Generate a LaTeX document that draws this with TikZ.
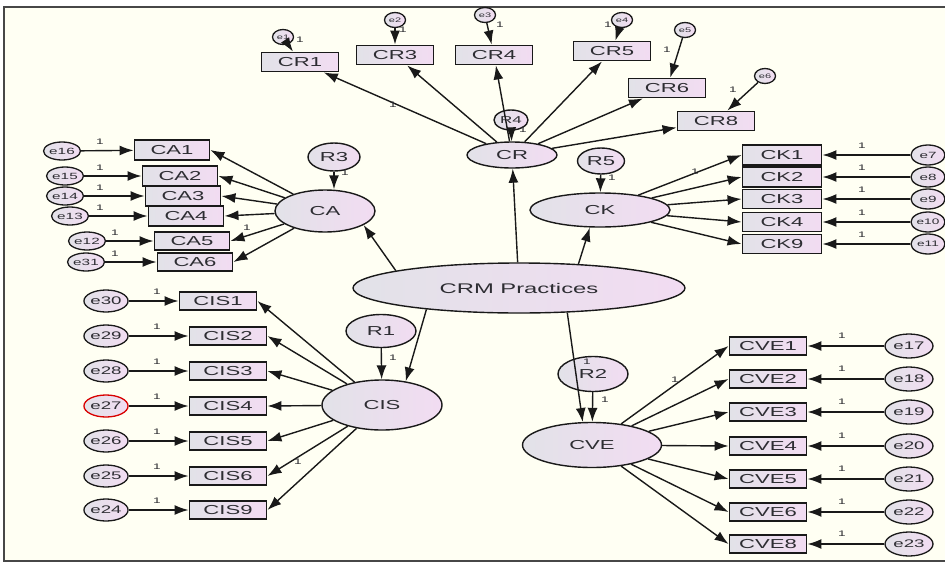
\documentclass[tikz,border=0pt]{standalone}
\usepackage{fontspec}
\setmainfont[FakeStretch=1.7]{Liberation Sans}
\usetikzlibrary{arrows.meta,shapes.geometric}
\definecolor{bg}{RGB}{255,255,243}
\definecolor{fl}{RGB}{226,226,232}
\definecolor{fr}{RGB}{242,220,242}
\definecolor{ln}{RGB}{25,25,25}
\definecolor{tx}{RGB}{45,45,50}
\tikzset{
  obs/.style={draw=ln, line width=1.9pt, left color=fl, right color=fr, minimum width=77pt, minimum height=19pt, inner sep=0pt, text=tx, font=\fontsize{13}{13}\selectfont},
  lat/.style={ellipse, draw=ln, line width=1.4pt, left color=fl, right color=fr, inner sep=0pt, text=tx, font=\fontsize{13}{13}\selectfont},
  err/.style={ellipse, draw=ln, line width=1.3pt, left color=fl, right color=fr, minimum width=44pt, minimum height=22pt, inner sep=0pt, text=tx, font=\fontsize{11}{11}\selectfont},
  errs/.style={ellipse, draw=ln, line width=1.3pt, left color=fl, right color=fr, minimum width=21pt, minimum height=15pt, inner sep=0pt, text=tx, font=\fontsize{6.5}{6.5}\selectfont},
  pth/.style={draw=ln, line width=1.4pt, -{Latex[length=14pt,width=10pt]}},
  lab/.style={font=\fontsize{8}{8}\selectfont, inner sep=0pt, text=tx}
}
\begin{document}
\begin{tikzpicture}[x=1pt,y=-1pt]
\useasboundingbox (0,0) rectangle (945,565);
\fill[white] (0,0) rectangle (945,565);
\draw[fill=bg, draw=ln!80, line width=2pt] (4,7) rectangle (952,561);

% latent variables
\node[lat, minimum width=332pt, minimum height=50pt, font=\fontsize{14}{14}\selectfont] (CRM) at (519,288) {CRM Practices};
\node[lat, minimum width=90pt, minimum height=26pt] (CR) at (512,155) {CR};
\node[lat, minimum width=100pt, minimum height=42pt] (CA) at (325,211) {CA};
\node[lat, minimum width=140pt, minimum height=34pt] (CK) at (600,210) {CK};
\node[lat, minimum width=120pt, minimum height=50pt] (CIS) at (382,405) {CIS};
\node[lat, minimum width=139pt, minimum height=45pt] (CVE) at (592,445) {CVE};

% residuals
\node[lat, minimum width=70pt, minimum height=33pt] (R1) at (381,331) {R1};
\node[lat, minimum width=70pt, minimum height=35pt] (R2) at (593,374) {R2};
\node[lat, minimum width=52pt, minimum height=28pt] (R3) at (334,157) {R3};
\node[lat, minimum width=34pt, minimum height=20pt, font=\fontsize{10}{10}\selectfont] (R4) at (511,120) {R4};
\node[lat, minimum width=47pt, minimum height=26pt] (R5) at (601,161) {R5};

% CR indicators
\node[obs] (CR1) at (300,62) {CR1};
\node[obs] (CR3) at (395,55) {CR3};
\node[obs] (CR4) at (494,55) {CR4};
\node[obs] (CR5) at (612,51) {CR5};
\node[obs] (CR6) at (667,88) {CR6};
\node[obs] (CR8) at (716,121) {CR8};
\node[errs] (e1) at (283,37) {e1};
\node[errs] (e2) at (395,20) {e2};
\node[errs] (e3) at (485,15) {e3};
\node[errs] (e4) at (622,20) {e4};
\node[errs] (e5) at (685,30) {e5};
\node[errs] (e6) at (765,76) {e6};

% CA indicators
\node[obs, minimum width=75pt, minimum height=20pt] (CA1) at (172,150) {CA1};
\node[obs, minimum width=75pt, minimum height=20pt] (CA2) at (180,176) {CA2};
\node[obs, minimum width=75pt, minimum height=20pt] (CA3) at (183,196) {CA3};
\node[obs, minimum width=75pt, minimum height=20pt] (CA4) at (186,216) {CA4};
\node[obs, minimum width=75pt, minimum height=18pt] (CA5) at (192,241) {CA5};
\node[obs, minimum width=75pt, minimum height=18pt] (CA6) at (195,262) {CA6};
\node[err, minimum width=37pt, minimum height=18pt, font=\fontsize{9}{9}\selectfont] (e16) at (62,151) {e16};
\node[err, minimum width=37pt, minimum height=18pt, font=\fontsize{9}{9}\selectfont] (e15) at (65,176) {e15};
\node[err, minimum width=37pt, minimum height=18pt, font=\fontsize{9}{9}\selectfont] (e14) at (65,196) {e14};
\node[err, minimum width=37pt, minimum height=18pt, font=\fontsize{9}{9}\selectfont] (e13) at (70,216) {e13};
\node[err, minimum width=37pt, minimum height=18pt, font=\fontsize{9}{9}\selectfont] (e12) at (87,241) {e12};
\node[err, minimum width=37pt, minimum height=18pt, font=\fontsize{9}{9}\selectfont] (e31) at (86,262) {e31};

% CK indicators
\node[obs, minimum width=79pt, minimum height=20pt] (CK1) at (782,155) {CK1};
\node[obs, minimum width=79pt, minimum height=20pt] (CK2) at (782,177) {CK2};
\node[obs, minimum width=79pt, minimum height=19pt] (CK3) at (782,199) {CK3};
\node[obs, minimum width=79pt, minimum height=19pt] (CK4) at (782,222) {CK4};
\node[obs, minimum width=79pt, minimum height=19pt] (CK9) at (782,244) {CK9};
\node[err, minimum width=34pt, minimum height=20pt, font=\fontsize{9}{9}\selectfont] (e7) at (928,155) {e7};
\node[err, minimum width=34pt, minimum height=20pt, font=\fontsize{9}{9}\selectfont] (e8) at (928,177) {e8};
\node[err, minimum width=34pt, minimum height=20pt, font=\fontsize{9}{9}\selectfont] (e9) at (928,199) {e9};
\node[err, minimum width=34pt, minimum height=20pt, font=\fontsize{8}{8}\selectfont] (e10) at (928,222) {e10};
\node[err, minimum width=34pt, minimum height=20pt, font=\fontsize{8}{8}\selectfont] (e11) at (928,244) {e11};

% CIS indicators
\node[obs, minimum height=18pt] (CIS1) at (218,301) {CIS1};
\node[obs, minimum height=18pt] (CIS2) at (228,336) {CIS2};
\node[obs, minimum height=18pt] (CIS3) at (228,371) {CIS3};
\node[obs, minimum height=18pt] (CIS4) at (228,406) {CIS4};
\node[obs, minimum height=18pt] (CIS5) at (228,441) {CIS5};
\node[obs, minimum height=18pt] (CIS6) at (228,476) {CIS6};
\node[obs, minimum height=18pt] (CIS9) at (228,510) {CIS9};
\node[err] (e30) at (106,301) {e30};
\node[err] (e29) at (106,336) {e29};
\node[err] (e28) at (106,371) {e28};
\node[err, draw=red!85!black] (e27) at (106,406) {e27};
\node[err] (e26) at (106,441) {e26};
\node[err] (e25) at (106,476) {e25};
\node[err] (e24) at (106,510) {e24};

% CVE indicators
\node[obs, minimum height=18pt] (CVE1) at (768,346) {CVE1};
\node[obs, minimum height=18pt] (CVE2) at (768,379) {CVE2};
\node[obs, minimum height=18pt] (CVE3) at (768,412) {CVE3};
\node[obs, minimum height=18pt] (CVE4) at (768,446) {CVE4};
\node[obs, minimum height=18pt] (CVE5) at (768,479) {CVE5};
\node[obs, minimum height=18pt] (CVE6) at (768,512) {CVE6};
\node[obs, minimum height=18pt] (CVE8) at (768,544) {CVE8};
\node[err, minimum width=48pt, minimum height=24pt] (e17) at (909,346) {e17};
\node[err, minimum width=48pt, minimum height=24pt] (e18) at (909,379) {e18};
\node[err, minimum width=48pt, minimum height=24pt] (e19) at (909,412) {e19};
\node[err, minimum width=48pt, minimum height=24pt] (e20) at (909,446) {e20};
\node[err, minimum width=48pt, minimum height=24pt] (e21) at (909,479) {e21};
\node[err, minimum width=48pt, minimum height=24pt] (e22) at (909,512) {e22};
\node[err, minimum width=48pt, minimum height=24pt] (e23) at (909,544) {e23};

% structural paths
\draw[pth] (CRM) -- (CR);
\draw[pth] (CRM.172) -- (CA.-20);
\draw[pth] (CRM.22) -- (CK.-120);
\draw[pth] (CRM.-167) -- (CIS.45);
\draw[pth] (CRM.-27.55) -- (CVE.112);
\draw[pth] (R1) -- (CIS);
\draw[pth] (R2) -- (CVE);
\draw[pth] (R3.south) -- (R3.south |- CA.north);
\draw[pth] (R4) -- (CR);
\draw[pth] (R5) -- (CK);

% measurement paths
\foreach \b in {CR1,CR3,CR4,CR5,CR6,CR8} \draw[pth] (CR) -- (\b);
\foreach \e/\b in {e1/CR1,e2/CR3,e3/CR4,e4/CR5,e5/CR6,e6/CR8} \draw[pth] (\e) -- (\b);
\foreach \b in {CA1,CA2,CA3,CA4,CA5,CA6} \draw[pth] (CA) -- (\b.east);
\foreach \e/\b in {e16/CA1,e15/CA2,e14/CA3,e13/CA4,e12/CA5,e31/CA6} \draw[pth] (\e) -- (\b);
\foreach \b in {CK1,CK2,CK3,CK4,CK9} \draw[pth] (CK) -- (\b.west);
\foreach \e/\b in {e7/CK1,e8/CK2,e9/CK3,e10/CK4,e11/CK9} \draw[pth] (\e) -- (\b);
\foreach \b in {CIS1,CIS2,CIS3,CIS4,CIS5,CIS6,CIS9} \draw[pth] (CIS) -- (\b.east);
\foreach \e/\b in {e30/CIS1,e29/CIS2,e28/CIS3,e27/CIS4,e26/CIS5,e25/CIS6,e24/CIS9} \draw[pth] (\e) -- (\b);
\foreach \b in {CVE1,CVE2,CVE3,CVE4,CVE5,CVE6,CVE8} \draw[pth] (CVE) -- (\b.west);
\foreach \e/\b in {e17/CVE1,e18/CVE2,e19/CVE3,e20/CVE4,e21/CVE5,e22/CVE6,e23/CVE8} \draw[pth] (\e) -- (\b);

% labels "1"
\foreach \p in {(393,105),(247,228),(695,172),(298,462),(675,380),(345,173),(612,178),(393,358),(605,400),(587,362),(523,130),
  (300,40),(403,30),(500,25),(608,25),(667,50),(733,90)}
  \node[lab] at \p {1};
\foreach \y in {142,168,188,208} \node[lab] at (100,\y) {1};
\foreach \y in {233,254} \node[lab] at (115,\y) {1};
\foreach \y in {146,168,190,213,235} \node[lab] at (862,\y) {1};
\foreach \y in {292,327,362,397,432,467,501} \node[lab] at (157,\y) {1};
\foreach \y in {336,369,402,436,469,502,534} \node[lab] at (842,\y) {1};
\end{tikzpicture}
\end{document}
